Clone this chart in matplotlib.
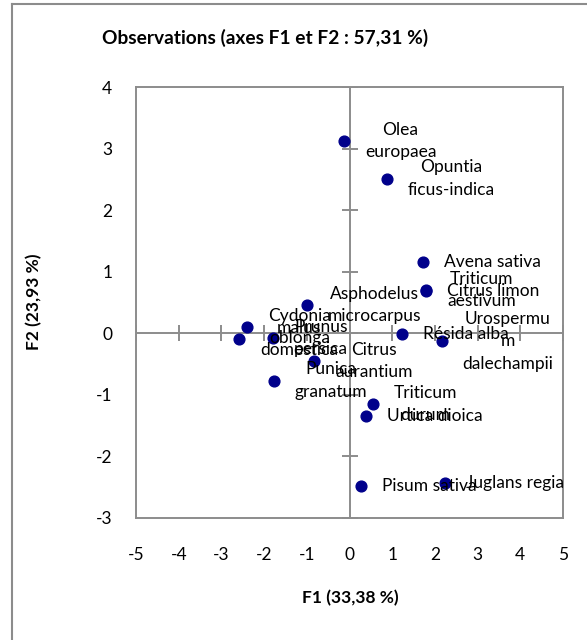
import matplotlib
matplotlib.use('Agg')
import matplotlib.pyplot as plt
from matplotlib.lines import Line2D
import numpy as np

plt.rcParams['font.family'] = ['Lato', 'DejaVu Sans']
plt.rcParams['axes.unicode_minus'] = False

# observations on F1 / F2
labels = ['Olea\neuropaea', 'Opuntia\nficus-indica', 'Avena sativa', 'Triticum\naestivum',
          'Citrus limon', 'Asphodelus\nmicrocarpus', 'Cydonia\noblonga', 'malus\ndomestica',
          'Prunus\npersica', 'Citrus\naurantium', 'Punica\ngranatum', 'Résida alba',
          'Urospermu\nm\ndalechampii', 'Triticum\ndurum', 'Urtica dioica', 'Pisum sativa',
          'Juglans regia']
f1 = [-0.13, 0.88, 1.72, 1.80, 1.79, -0.99, -2.40, -2.58, -1.79, -0.83, -1.77,
      1.23, 2.16, 0.55, 0.39, 0.27, 2.23]
f2 = [3.12, 2.51, 1.16, 0.70, 0.69, 0.46, 0.10, -0.09, -0.08, -0.45, -0.77,
      -0.01, -0.13, -1.15, -1.34, -2.48, -2.43]

xticks = np.arange(-5, 6)
yticks = np.arange(-3, 5)

W, H = 587, 640
fig = plt.figure(figsize=(W / 100, H / 100), dpi=100)
ax = fig.add_axes([136 / W, 1 - 518 / H, (563 - 136) / W, (518 - 87) / H])

gray = '#8c8c8c'
ax.set_xlim(-5, 5)
ax.set_ylim(-3, 4)
for s in ax.spines.values():
    s.set_color(gray)
    s.set_linewidth(1.4)

ax.axhline(0, color=gray, lw=1.4, zorder=1)
ax.axvline(0, color=gray, lw=1.4, zorder=1)
# cross ticks on the zero lines
ax.plot(xticks, np.zeros(len(xticks)), ls='none', marker='|', ms=11, mew=1.4, color=gray, zorder=1)
ax.plot(np.zeros(len(yticks)), yticks, ls='none', marker='_', ms=11, mew=1.4, color=gray, zorder=1)

ax.set_xticks(xticks)
ax.set_yticks(yticks)
ax.tick_params(length=0, labelsize=12.5, labelcolor='black')
ax.tick_params(axis='x', pad=21)
ax.tick_params(axis='y', pad=17)

ax.scatter(f1, f2, s=60, color='#00008b', zorder=3)
for lab, x, y in zip(labels, f1, f2):
    ax.annotate(lab, (x, y), xytext=(15, 0), textcoords='offset points',
                ha='left', va='center', multialignment='center',
                fontsize=12.5, linespacing=1.5, zorder=4)

fig.text(265 / W, 1 - 38 / H, 'Observations (axes F1 et F2 : 57,31 %)',
         ha='center', va='center', fontsize=13.8, fontweight='bold')
fig.text(350 / W, 1 - 598 / H, 'F1 (33,38 %)', ha='center', va='center',
         fontsize=12.5, fontweight='bold')
fig.text(34 / W, 1 - 302 / H, 'F2 (23,93 %)', ha='center', va='center',
         rotation=90, fontsize=12.5, fontweight='bold')

# chart area border (only left and top edges are inside the picture)
fig.add_artist(Line2D([12 / W, 12 / W], [0, 1 - 4 / H], color=gray, lw=1.5))
fig.add_artist(Line2D([12 / W, 1], [1 - 4 / H, 1 - 4 / H], color=gray, lw=1.5))

fig.savefig('out.png', dpi=100)
